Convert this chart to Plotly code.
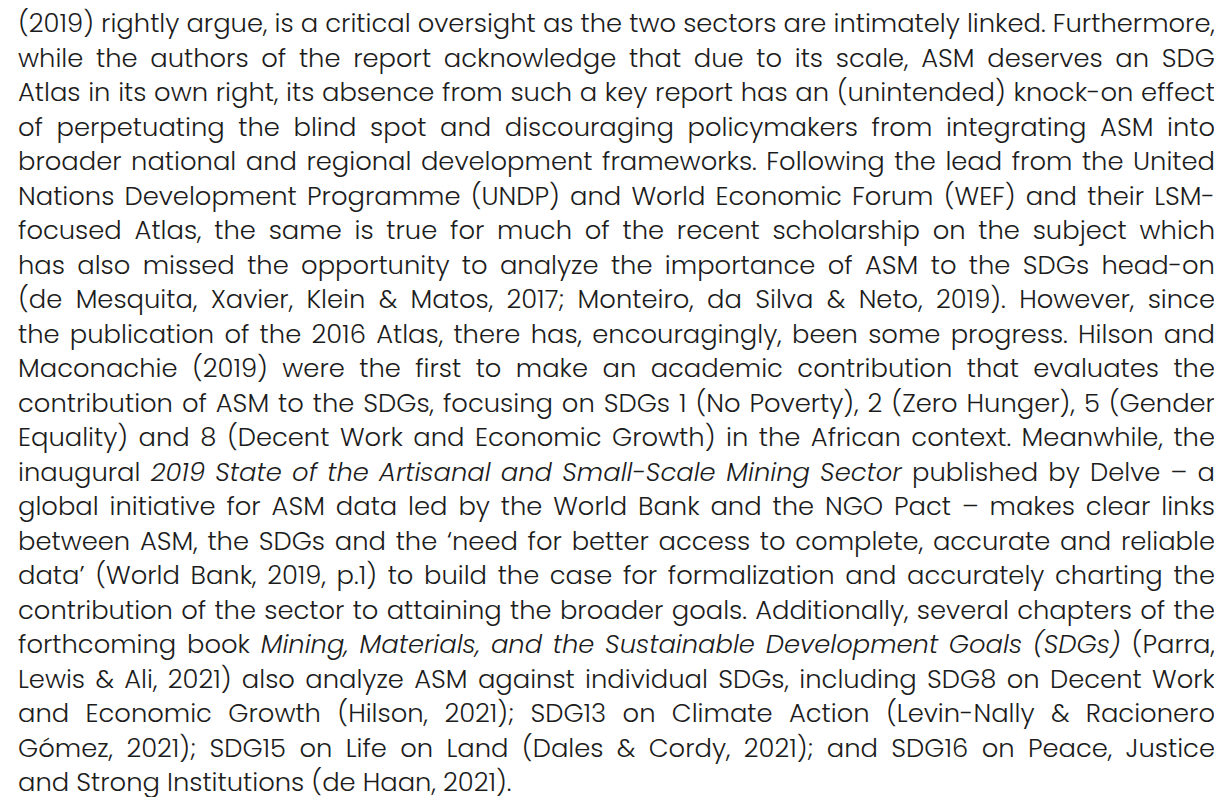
import glob
import plotly.graph_objects as go
from PIL import ImageFont

# ---- content: one entry per printed line ----
LINES = [
    "(2019) rightly argue, is a critical oversight as the two sectors are intimately linked. Furthermore,",
    "while the authors of the report acknowledge that due to its scale, ASM deserves an SDG",
    "Atlas in its own right, its absence from such a key report has an (unintended) knock-on effect",
    "of perpetuating the blind spot and discouraging policymakers from integrating ASM into",
    "broader national and regional development frameworks. Following the lead from the United",
    "Nations Development Programme (UNDP) and World Economic Forum (WEF) and their LSM-",
    "focused Atlas, the same is true for much of the recent scholarship on the subject which",
    "has also missed the opportunity to analyze the importance of ASM to the SDGs head-on",
    "(de Mesquita, Xavier, Klein & Matos, 2017; Monteiro, da Silva & Neto, 2019). However, since",
    "the publication of the 2016 Atlas, there has, encouragingly, been some progress. Hilson and",
    "Maconachie (2019) were the first to make an academic contribution that evaluates the",
    "contribution of ASM to the SDGs, focusing on SDGs 1 (No Poverty), 2 (Zero Hunger), 5 (Gender",
    "Equality) and 8 (Decent Work and Economic Growth) in the African context. Meanwhile, the",
    "inaugural 2019 State of the Artisanal and Small-Scale Mining Sector published by Delve – a",
    "global initiative for ASM data led by the World Bank and the NGO Pact – makes clear links",
    "between ASM, the SDGs and the ‘need for better access to complete, accurate and reliable",
    "data’ (World Bank, 2019, p.1) to build the case for formalization and accurately charting the",
    "contribution of the sector to attaining the broader goals. Additionally, several chapters of the",
    "forthcoming book Mining, Materials, and the Sustainable Development Goals (SDGs) (Parra,",
    "Lewis & Ali, 2021) also analyze ASM against individual SDGs, including SDG8 on Decent Work",
    "and Economic Growth (Hilson, 2021); SDG13 on Climate Action (Levin-Nally & Racionero",
    "Gómez, 2021); SDG15 on Life on Land (Dales & Cordy, 2021); and SDG16 on Peace, Justice",
    "and Strong Institutions (de Haan, 2021).",
]
# italic phrases (line index -> phrase)
ITALIC = {
    13: "2019 State of the Artisanal and Small-Scale Mining Sector",
    18: "Mining, Materials, and the Sustainable Development Goals (SDGs)",
}
# lines that are not justified (paragraph end)
RAGGED = {22}

W, H = 1222, 797
LEFT, RIGHT = 10.0, 1207.0
BASE0, LEAD = 27.0, 34.5
MIN_SPACE = 1.0          # tightest line gets this fraction of a normal space
TARGET_CAP = 13.5        # cap height of the reference type, px
COLOR = "#1c1c1c"
# (regular file, light file) candidates
CANDIDATES = [("DidactGothic-Regular.ttf", None), ("Questrial-Regular.ttf", None),
              ("Poppins-Regular.ttf", "Poppins-Light.ttf"),
              ("Montserrat-Regular.ttf", "Montserrat-Light.ttf"), ("Mulish-Regular.ttf", None),
              ("Urbanist-Regular.ttf", None), ("VarelaRound-Regular.ttf", None),
              ("Varela-Regular.ttf", None)]


def find(name):
    if not name:
        return None
    hits = glob.glob("/usr/share/fonts/**/" + name, recursive=True)
    return hits[0] if hits else None


def fit_font(path):
    f = ImageFont.truetype(path, 100)
    sp = f.getlength(" ")
    fits = []
    for i, line in enumerate(LINES):
        if i in RAGGED:
            continue
        words = line.split(" ")
        nat = sum(f.getlength(w) for w in words) + MIN_SPACE * sp * (len(words) - 1)
        fits.append((RIGHT - LEFT) / nat * 100.0)
    size = min(fits)
    b = f.getbbox("H")
    cap = (b[3] - b[1]) * size / 100.0
    return f, size, cap


best = None
for reg, light in CANDIDATES:
    p = find(reg)
    if not p:
        continue
    lp = find(light)
    weight = 300 if lp else 400
    f, size, cap = fit_font(lp or p)
    score = abs(cap - TARGET_CAP)
    if best is None or score < best[0]:
        best = (score, f, size, ImageFont.truetype(p, 100).getname()[0], weight)
if best is None:
    p = glob.glob("/usr/share/fonts/**/DejaVuSans.ttf", recursive=True)[0]
    f, size, cap = fit_font(p)
    best = (0, f, size, "DejaVu Sans", 400)
_, fnt, size, family, weight = best
size = round(size, 2)
k = size / 100.0
space = fnt.getlength(" ") * k
FAMILY = family + ", Didact Gothic, Lato, sans-serif"

xs, ys, texts = [], [], []
for i, line in enumerate(LINES):
    words = line.split(" ")
    ital = set()
    if i in ITALIC:
        start = line.index(ITALIC[i])
        end = start + len(ITALIC[i])
        pos = 0
        for j, w in enumerate(words):
            if pos >= start and pos + len(w) <= end:
                ital.add(j)
            pos += len(w) + 1
    widths = [fnt.getlength(w) * k for w in words]
    if i in RAGGED or len(words) == 1:
        gap = space
    else:
        gap = (RIGHT - LEFT - sum(widths)) / (len(words) - 1)
    x = LEFT
    yc = BASE0 + LEAD * i - 0.35 * size
    for j, w in enumerate(words):
        xs.append(x)
        ys.append(yc)
        texts.append("<i>%s</i>" % w if j in ital else w)
        x += widths[j] + gap

fig = go.Figure(go.Scatter(
    x=xs, y=ys, text=texts, mode="text", textposition="middle right",
    textfont=dict(family=FAMILY, size=size, color=COLOR, weight=weight),
    hoverinfo="skip", showlegend=False, cliponaxis=False,
))
fig.update_layout(
    width=W, height=H, margin=dict(l=0, r=0, t=0, b=0),
    paper_bgcolor="white", plot_bgcolor="white",
    xaxis=dict(visible=False, range=[0, W], fixedrange=True),
    yaxis=dict(visible=False, range=[H, 0], fixedrange=True),
)
fig.write_html("out.html")
